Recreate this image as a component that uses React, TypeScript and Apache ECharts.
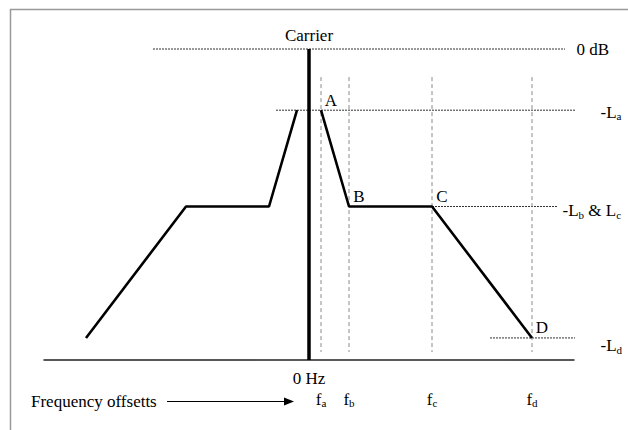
import React, { useEffect, useRef } from "react";
import * as echarts from "echarts";

// Frequency offsets (carrier at 0), arbitrary units
const offsetKeys = ["a", "b", "c", "d"];
const offsetValues = [1.2, 4.0, 12.3, 22.3];
// Mask corner points A..D (right side); left side is the mirror image
const cornerNames = ["A", "B", "C", "D"];
const cornerLevels = [-6.1, -15.7, -15.7, -28.8];
// Reference (dotted) level lines
const refLevels = [0, -6.1, -15.7, -28.8];
const refStarts = [-15.6, -3.3, 12.3, 18.1];
const refEnds = [25.6, 28.8, 24.8, 28.6];
const refTexts = ["0 dB", "-L{s|a}", "-L{s|b} & L{s|c}", "-L{s|d}"];
// Axis ranges / carrier
const xRange = [-26.5, 26.5];
const yRange = [-31, 0];
const carrierLevel = 0;
const guideRange = [-2.8, -30.2];

const FONT = "Liberation Serif, serif";
const FS = 17;

export default function App() {
  const ref = useRef<HTMLDivElement>(null);
  useEffect(() => {
    if (!ref.current) return;
    const chart = echarts.init(ref.current, undefined, { renderer: "svg" });
    const rich = {
      m: { fontFamily: FONT, fontSize: FS, color: "#000", lineHeight: 19 },
      s: { fontFamily: FONT, fontSize: 11, color: "#000", padding: [8, 0, 0, 0], lineHeight: 11, verticalAlign: "bottom" },
    };
    const rightMask = offsetValues.map((x, i) => [x, cornerLevels[i]]);
    const leftMask = rightMask.map(([x, y]) => [-x, y]).reverse();
    const floor = yRange[0];
    const hidden = { color: "transparent", opacity: 1 };

    const series: any[] = [];
    // dotted reference level lines
    refLevels.forEach((lv, i) => {
      series.push({
        type: "line",
        data: [
          [refStarts[i], lv],
          {
            value: [refEnds[i], lv],
            label: {
              show: true,
              position: "right",
              distance: [11, 3, 5, 5][i],
              offset: [0, [0, 2, 4, 8][i]],
              formatter: refTexts[i].replace(/^([^{]*)/, "{m|$1}").replace(/\}([^{}]+)\{/g, "}{m|$1}{"),
              rich,
            },
          },
        ],
        symbol: "circle",
        symbolSize: 1,
        showSymbol: true,
        itemStyle: hidden,
        lineStyle: { color: "#333", width: 1, type: [2, 1] },
        clip: false,
        silent: true,
        z: 2,
      });
    });
    // dashed vertical guides at offsets
    offsetValues.forEach((x) => {
      series.push({
        type: "line",
        data: [
          [x, guideRange[0]],
          [x, guideRange[1]],
        ],
        symbol: "none",
        lineStyle: { color: "#8a8a8a", width: 1, type: [4, 3] },
        silent: true,
        z: 2,
      });
    });
    // mask
    [leftMask, rightMask].forEach((d) => {
      series.push({
        type: "line",
        data: d,
        symbol: "none",
        lineStyle: { color: "#000", width: 2.6 },
        silent: true,
        z: 3,
      });
    });
    // carrier
    series.push({
      type: "line",
      data: [
        {
          value: [0, carrierLevel],
          label: { show: true, position: "top", distance: 5, formatter: "Carrier", fontFamily: FONT, fontSize: FS, color: "#000" },
        },
        {
          value: [0, floor],
          label: { show: true, position: "bottom", distance: 9, formatter: "0 Hz", fontFamily: FONT, fontSize: FS, color: "#000" },
        },
      ],
      symbol: "circle",
      symbolSize: 1,
      itemStyle: hidden,
      lineStyle: { color: "#000", width: 3.5 },
      silent: true,
      z: 4,
    });
    // corner labels
    series.push({
      type: "scatter",
      data: rightMask.map((p, i) => ({ value: p, name: cornerNames[i] })),
      symbolSize: 1,
      itemStyle: hidden,
      label: {
        show: true,
        position: "top",
        distance: 5,
        offset: [10, 4],
        formatter: (p: any) => p.name,
        fontFamily: FONT,
        fontSize: FS,
        color: "#000",
      },
      silent: true,
      z: 5,
    });
    // frequency offset labels
    series.push({
      type: "scatter",
      data: offsetValues.map((x, i) => ({ value: [x, floor], name: offsetKeys[i] })),
      symbolSize: 1,
      itemStyle: hidden,
      label: {
        show: true,
        position: "bottom",
        distance: 29,
        formatter: (p: any) => `{m|f}{s|${p.name}}`,
        rich,
      },
      clip: false,
      silent: true,
      z: 5,
    });

    chart.setOption({
      animation: false,
      textStyle: { fontFamily: FONT },
      grid: { left: 44, right: 54, top: 49, bottom: 70 },
      xAxis: {
        type: "value",
        min: xRange[0],
        max: xRange[1],
        axisLine: { show: true, onZero: false, lineStyle: { color: "#222", width: 1.5 } },
        axisTick: { show: false },
        axisLabel: { show: false },
        splitLine: { show: false },
      },
      yAxis: {
        type: "value",
        min: yRange[0],
        max: yRange[1],
        show: false,
        splitLine: { show: false },
      },
      graphic: [
        {
          type: "rect",
          shape: { x: 10.5, y: 9.5, width: 700, height: 500 },
          style: { fill: "none", stroke: "#999", lineWidth: 1.5 },
          silent: true,
        },
        {
          type: "text",
          x: 31,
          y: 401,
          style: { text: "Frequency offsetts", fontFamily: FONT, fontSize: FS, fill: "#000", verticalAlign: "middle" },
          silent: true,
        },
        {
          type: "line",
          shape: { x1: 167, y1: 401.5, x2: 286, y2: 401.5 },
          style: { stroke: "#000", lineWidth: 1 },
          silent: true,
        },
        {
          type: "polygon",
          shape: { points: [[284, 397.5], [294, 401.5], [284, 405.5]] },
          style: { fill: "#000" },
          silent: true,
        },
      ],
      series,
    });
    return () => chart.dispose();
  }, []);
  return (
    <div
      ref={ref}
      style={{ position: "fixed", left: 0, top: 0, width: 628, height: 430, background: "#fff" }}
    />
  );
}
